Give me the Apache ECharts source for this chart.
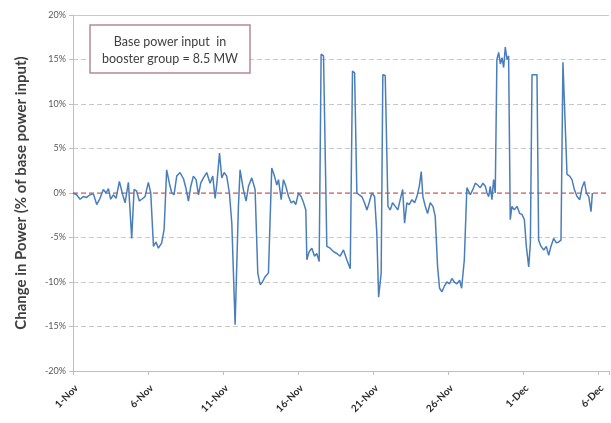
<!DOCTYPE html>
<html>
<head>
<meta charset="utf-8">
<script src="https://cdn.jsdelivr.net/npm/echarts@6/dist/echarts.min.js"></script>
<style>
  html, body { margin: 0; padding: 0; background: #ffffff; }
  #chart { width: 611px; height: 423px; }
</style>
</head>
<body>
<div id="chart"></div>
<script>
// Days elapsed since 1-Nov (fractional days)
const dayOffsets = [
  0.0, 0.24, 0.47, 0.69, 0.91, 1.13, 1.36, 1.58, 1.8, 2.02,
  2.2, 2.36, 2.51, 2.69, 2.87, 3.09, 3.31, 3.47, 3.69, 3.91,
  4.07, 4.24, 4.42, 4.58, 4.8, 5.02, 5.18, 5.36, 5.53, 5.69,
  5.91, 6.07, 6.24, 6.42, 6.58, 6.73, 6.91, 7.13, 7.36, 7.53,
  7.69, 7.84, 8.02, 8.2, 8.36, 8.51, 8.69, 8.91, 9.13, 9.31,
  9.47, 9.58, 9.76, 9.91, 10.07, 10.24, 10.42, 10.58, 10.8, 11.02,
  11.13, 11.36, 11.53, 11.69, 11.91, 12.13, 12.31, 12.47, 12.62, 12.8,
  13.02, 13.24, 13.42, 13.58, 13.69, 13.87, 14.02, 14.18, 14.36, 14.53,
  14.69, 14.84, 15.02, 15.2, 15.36, 15.51, 15.58, 15.73, 15.91, 16.09,
  16.24, 16.4, 16.53, 16.69, 16.8, 16.91, 17.13, 17.36, 17.58, 17.8,
  18.02, 18.24, 18.47, 18.62, 18.76, 18.91, 19.07, 19.24, 19.42, 19.58,
  19.73, 19.91, 20.09, 20.24, 20.36, 20.53, 20.64, 20.8, 20.98, 21.13,
  21.29, 21.47, 21.64, 21.8, 21.96, 22.09, 22.24, 22.4, 22.58, 22.76,
  22.91, 23.07, 23.2, 23.31, 23.47, 23.62, 23.8, 23.98, 24.13, 24.29,
  24.42, 24.58, 24.73, 24.91, 25.09, 25.24, 25.4, 25.58, 25.76, 25.89,
  26.07, 26.24, 26.36, 26.47, 26.64, 26.8, 26.96, 27.13, 27.31, 27.47,
  27.58, 27.69, 27.8, 27.91, 28.02, 28.13, 28.24, 28.36, 28.47, 28.58,
  28.69, 28.8, 28.91, 29.02, 29.13, 29.24, 29.4, 29.58, 29.76, 29.91,
  30.07, 30.2, 30.36, 30.47, 30.58, 30.73, 30.91, 31.02, 31.18, 31.36,
  31.53, 31.69, 31.84, 32.02, 32.2, 32.36, 32.51, 32.64, 32.76, 32.91,
  33.09, 33.24, 33.4, 33.58, 33.76, 33.91, 34.07, 34.2, 34.36, 34.51,
  34.6
];

// Change in power, % of base power input
const changePct = [
  0.0, -0.2, -0.7, -0.4, -0.5, -0.2, -0.1, -1.3, -0.6, 0.4,
  0.0, 0.5, -0.7, -0.2, -0.6, 1.3, -0.2, -1.1, 1.2, -5.1,
  0.4, 0.2, -0.9, -0.7, -0.4, 1.2, 0.0, -6.0, -5.5, -6.2,
  -5.6, -4.1, 2.6, 1.1, 0.0, -0.2, 1.9, 2.3, 1.6, 0.5,
  -0.9, 0.7, 1.9, 1.5, -0.2, 1.1, 1.7, 2.3, 1.1, 1.9,
  -0.6, 1.0, 4.5, 1.7, 2.3, 1.9, 0.0, -3.4, -14.8, -1.5,
  2.6, 0.3, -0.9, 0.75, 1.7, 0.4, -9.0, -10.3, -10.0, -9.4,
  -9.0, 2.8, 1.9, 0.9, 1.5, -0.75, 1.5, 0.75, -0.4, -1.1,
  -0.9, -1.3, 0.0, -0.4, -1.1, -1.9, -7.5, -6.6, -6.2, -7.1,
  -6.8, -7.7, 15.6, 15.4, 15.2, -6.0, -6.2, -6.6, -6.8, -7.1,
  -6.4, -7.5, -8.5, 13.7, 13.5, 0.0, -0.2, -0.4, -1.1, -1.9,
  -1.1, 0.0, -0.4, -4.5, -11.7, -9.0, 13.3, 13.2, -1.5, -1.9,
  -1.1, -1.5, -1.9, -0.75, 0.4, -3.4, -1.1, -1.3, -0.75, -1.1,
  -0.4, 0.75, 2.4, -0.4, -1.5, -2.3, -1.1, -1.5, -2.6, -8.3,
  -10.7, -11.1, -10.5, -10.0, -10.2, -9.6, -10.0, -10.2, -9.8, -10.7,
  -7.5, 0.6, 0.75, -0.2, 0.4, 1.1, 0.9, 0.6, 1.1, 0.75,
  0.0, -0.4, 0.75, -0.75, 1.5, 0.0, 15.0, 15.8, 14.5, 15.2,
  14.1, 16.4, 15.0, 15.4, -3.0, -1.5, -1.9, -1.5, -2.3, -2.4,
  -3.0, -6.0, -8.3, -5.6, 13.3, 13.3, 13.3, -5.3, -6.0, -6.4,
  -6.0, -7.0, -6.0, -5.1, -5.6, -5.5, -5.3, 14.7, 14.5, 2.1,
  1.9, 1.5, 0.4, -0.4, -0.75, 0.6, 1.3, 0.0, -0.4, -2.1,
  0.0
];

// Category labels for every 5-day tick on the date axis
const tickLabels = ['1-Nov', '6-Nov', '11-Nov', '16-Nov', '21-Nov', '26-Nov', '1-Dec', '6-Dec'];

// Reference level (0 %) across the full date range
const baselineDays = [0, 35.7];
const baselineValues = [0, 0];

const noteLines = ['Base power input  in', 'booster group = 8.5 MW'];

const FONT = 'Lato, "Open Sans", sans-serif';

const chart = echarts.init(document.getElementById('chart'), null, { renderer: 'canvas' });

chart.setOption({
  animation: false,
  backgroundColor: '#ffffff',
  textStyle: { fontFamily: FONT },
  grid: { left: 73, right: 0, top: 15, bottom: 52, containLabel: false },
  xAxis: {
    type: 'value',
    min: 0,
    max: 35.7,
    interval: 5,
    axisLine: { show: true, onZero: false, lineStyle: { color: '#bfbfbf', width: 1 } },
    axisTick: { show: true, length: 4, lineStyle: { color: '#bfbfbf' } },
    axisLabel: {
      rotate: 45,
      fontSize: 10,
      fontWeight: 'bold',
      color: '#2b2b2b',
      margin: 12,
      verticalAlign: 'top',
      formatter: function (v) {
        if (Math.abs(v / 5 - Math.round(v / 5)) > 1e-6) return '';
        const lbl = tickLabels[Math.round(v / 5)];
        return lbl === undefined ? '' : lbl;
      }
    },
    splitLine: { show: false }
  },
  yAxis: {
    type: 'value',
    min: -20,
    max: 20,
    interval: 5,
    name: 'Change in Power (% of base power input)',
    nameLocation: 'middle',
    nameGap: 44,
    nameRotate: 90,
    nameTextStyle: { fontSize: 15, fontWeight: 'bold', color: '#404040', fontFamily: FONT },
    axisLine: { show: true, lineStyle: { color: '#bfbfbf', width: 1 } },
    axisTick: { show: true, length: 4, lineStyle: { color: '#bfbfbf' } },
    axisLabel: { fontSize: 9, color: '#595959', formatter: '{value}%', margin: 7 },
    splitLine: { show: true, lineStyle: { color: '#c8c8c8', type: [5, 3], width: 1 } }
  },
  series: [
    {
      name: 'baseline',
      type: 'line',
      data: baselineDays.map((d, i) => [d, baselineValues[i]]),
      showSymbol: false,
      symbol: 'none',
      silent: true,
      lineStyle: { color: '#c0504d', type: [5, 3], width: 1 },
      z: 2
    },
    {
      name: 'change',
      type: 'line',
      data: dayOffsets.map((d, i) => [d, changePct[i]]),
      showSymbol: false,
      symbol: 'none',
      lineStyle: { color: '#4a7ebb', width: 1.5 },
      z: 3,
      markLine: {
        silent: true,
        symbol: ['none', 'none'],
        label: { show: false },
        lineStyle: { color: '#c8c8c8', type: 'solid', width: 1 },
        data: [{ yAxis: 20 }]
      }
    }
  ],
  graphic: [
    {
      type: 'rect',
      shape: { x: 90, y: 25, width: 160, height: 48 },
      style: { fill: '#ffffff', stroke: '#b48a96', lineWidth: 1.5 },
      z: 10
    },
    {
      type: 'text',
      x: 170,
      y: 42,
      style: { text: noteLines[0], fontSize: 12.5, fontFamily: FONT, fill: '#404040', align: 'center', verticalAlign: 'middle' },
      z: 11
    },
    {
      type: 'text',
      x: 170,
      y: 59,
      style: { text: noteLines[1], fontSize: 12.5, fontFamily: FONT, fill: '#404040', align: 'center', verticalAlign: 'middle' },
      z: 11
    }
  ]
});
</script>
</body>
</html>
